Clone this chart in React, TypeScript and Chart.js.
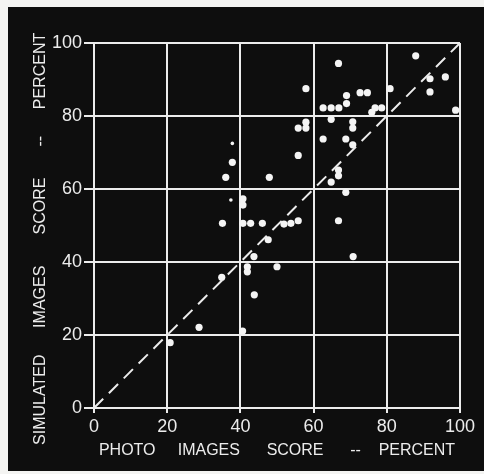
import React, { useEffect, useRef } from "react";
import { Chart, registerables } from "chart.js";

Chart.register(...registerables);

// Main (large) points: photo images score vs simulated images score
const photoScores = [
  37.8, 36.0, 47.9, 40.7, 40.7, 35.1, 40.7, 42.8, 46.0, 51.9, 53.8, 55.8, 47.6, 43.7,
  41.9, 41.9, 50.0, 34.9, 43.8, 28.7, 40.6, 20.8, 66.8, 87.9, 57.9, 91.8, 96.0, 91.8,
  69.0, 72.7, 74.7, 80.9, 69.0, 62.6, 64.8, 66.9, 76.8, 78.6, 75.9, 98.8, 64.8, 57.9,
  55.8, 57.9, 70.7, 70.7, 62.6, 68.8, 70.7, 55.8, 66.8, 66.8, 64.8, 68.8, 66.8, 70.8,
];
const simulatedScores = [
  67.3, 63.2, 63.2, 57.3, 55.6, 50.6, 50.6, 50.6, 50.6, 50.4, 50.6, 51.3, 46.1, 41.5,
  38.7, 37.3, 38.7, 35.8, 31.0, 22.1, 21.1, 17.9, 94.4, 96.5, 87.5, 90.2, 90.7, 86.6,
  85.6, 86.4, 86.4, 87.5, 83.4, 82.2, 82.2, 82.2, 82.2, 82.2, 81.0, 81.6, 79.1, 78.3,
  76.7, 76.7, 78.4, 76.7, 73.7, 73.7, 72.1, 69.2, 65.2, 63.6, 61.9, 59.1, 51.3, 41.5,
];

// Small points
const smallPhotoScores = [37.8, 37.4];
const smallSimulatedScores = [72.5, 57.0];

// Equality reference line
const diagonalX = [0, 100];
const diagonalY = [0, 100];

const tickValues = [0, 20, 40, 60, 80, 100];

const xTitle = "PHOTO     IMAGES      SCORE      --    PERCENT";
const yTitle = "SIMULATED      IMAGES       SCORE       --      PERCENT      ";

const FONT = "'Liberation Sans', Arial, sans-serif";
const FG = "#ececec";

export default function App() {
  const canvasRef = useRef<HTMLCanvasElement | null>(null);

  useEffect(() => {
    const canvas = canvasRef.current;
    if (!canvas) return;

    const bgPlugin = {
      id: "photoBg",
      beforeDraw(chart: any) {
        const ctx = chart.ctx;
        ctx.save();
        ctx.fillStyle = "#f4f4f2";
        ctx.fillRect(0, 0, chart.width, chart.height);
        ctx.fillStyle = "#0e0e0e";
        ctx.fillRect(8, 7, chart.width - 8, 464);
        ctx.restore();
      },
    };

    const chart = new Chart(canvas, {
      type: "scatter",
      data: {
        datasets: [
          {
            type: "line",
            data: diagonalX.map((x, i) => ({ x, y: diagonalY[i] })),
            borderColor: FG,
            borderWidth: 2,
            borderDash: [13, 8],
            pointRadius: 0,
            fill: false,
          } as any,
          {
            data: photoScores.map((x, i) => ({ x, y: simulatedScores[i] })),
            backgroundColor: "#f4f4f4",
            borderWidth: 0,
            pointRadius: 3.6,
          },
          {
            data: smallPhotoScores.map((x, i) => ({ x, y: smallSimulatedScores[i] })),
            backgroundColor: "#f4f4f4",
            borderWidth: 0,
            pointRadius: 1.8,
          },
        ],
      },
      options: {
        responsive: false,
        animation: false,
        events: [],
        layout: { padding: { top: 43, right: 24, left: 0, bottom: 0 } },
        plugins: {
          legend: { display: false },
          tooltip: { enabled: false },
        },
        scales: {
          x: {
            type: "linear",
            min: 0,
            max: 100,
            afterBuildTicks: (scale: any) => {
              scale.ticks = tickValues.map((v) => ({ value: v }));
            },
            afterFit: (scale: any) => {
              scale.height = 66;
            },
            ticks: {
              color: FG,
              font: { family: FONT, size: 18 },
              padding: 3,
              maxRotation: 0,
            },
            grid: {
              color: FG,
              lineWidth: 2,
              tickLength: 5,
            },
            border: { color: FG, width: 2 },
            title: {
              display: true,
              text: xTitle,
              color: FG,
              font: { family: FONT, size: 16 },
              padding: { top: 0, bottom: 14 },
            },
          },
          y: {
            type: "linear",
            min: 0,
            max: 100,
            afterBuildTicks: (scale: any) => {
              scale.ticks = tickValues.map((v) => ({ value: v }));
            },
            afterFit: (scale: any) => {
              scale.width = 94;
            },
            ticks: {
              color: FG,
              font: { family: FONT, size: 18 },
              padding: 2,
            },
            grid: {
              color: FG,
              lineWidth: 2,
              tickLength: 10,
            },
            border: { color: FG, width: 2 },
            title: {
              display: true,
              text: yTitle,
              color: FG,
              font: { family: FONT, size: 16 },
              padding: { top: 31, bottom: 0 },
            },
          },
        },
      },
      plugins: [bgPlugin],
    });

    return () => chart.destroy();
  }, []);

  return (
    <div
      style={{
        position: "fixed",
        left: 0,
        top: 0,
        width: 484,
        height: 474,
        background: "#f4f4f2",
      }}
    >
      <canvas ref={canvasRef} width={484} height={474} style={{ display: "block" }} />
    </div>
  );
}
